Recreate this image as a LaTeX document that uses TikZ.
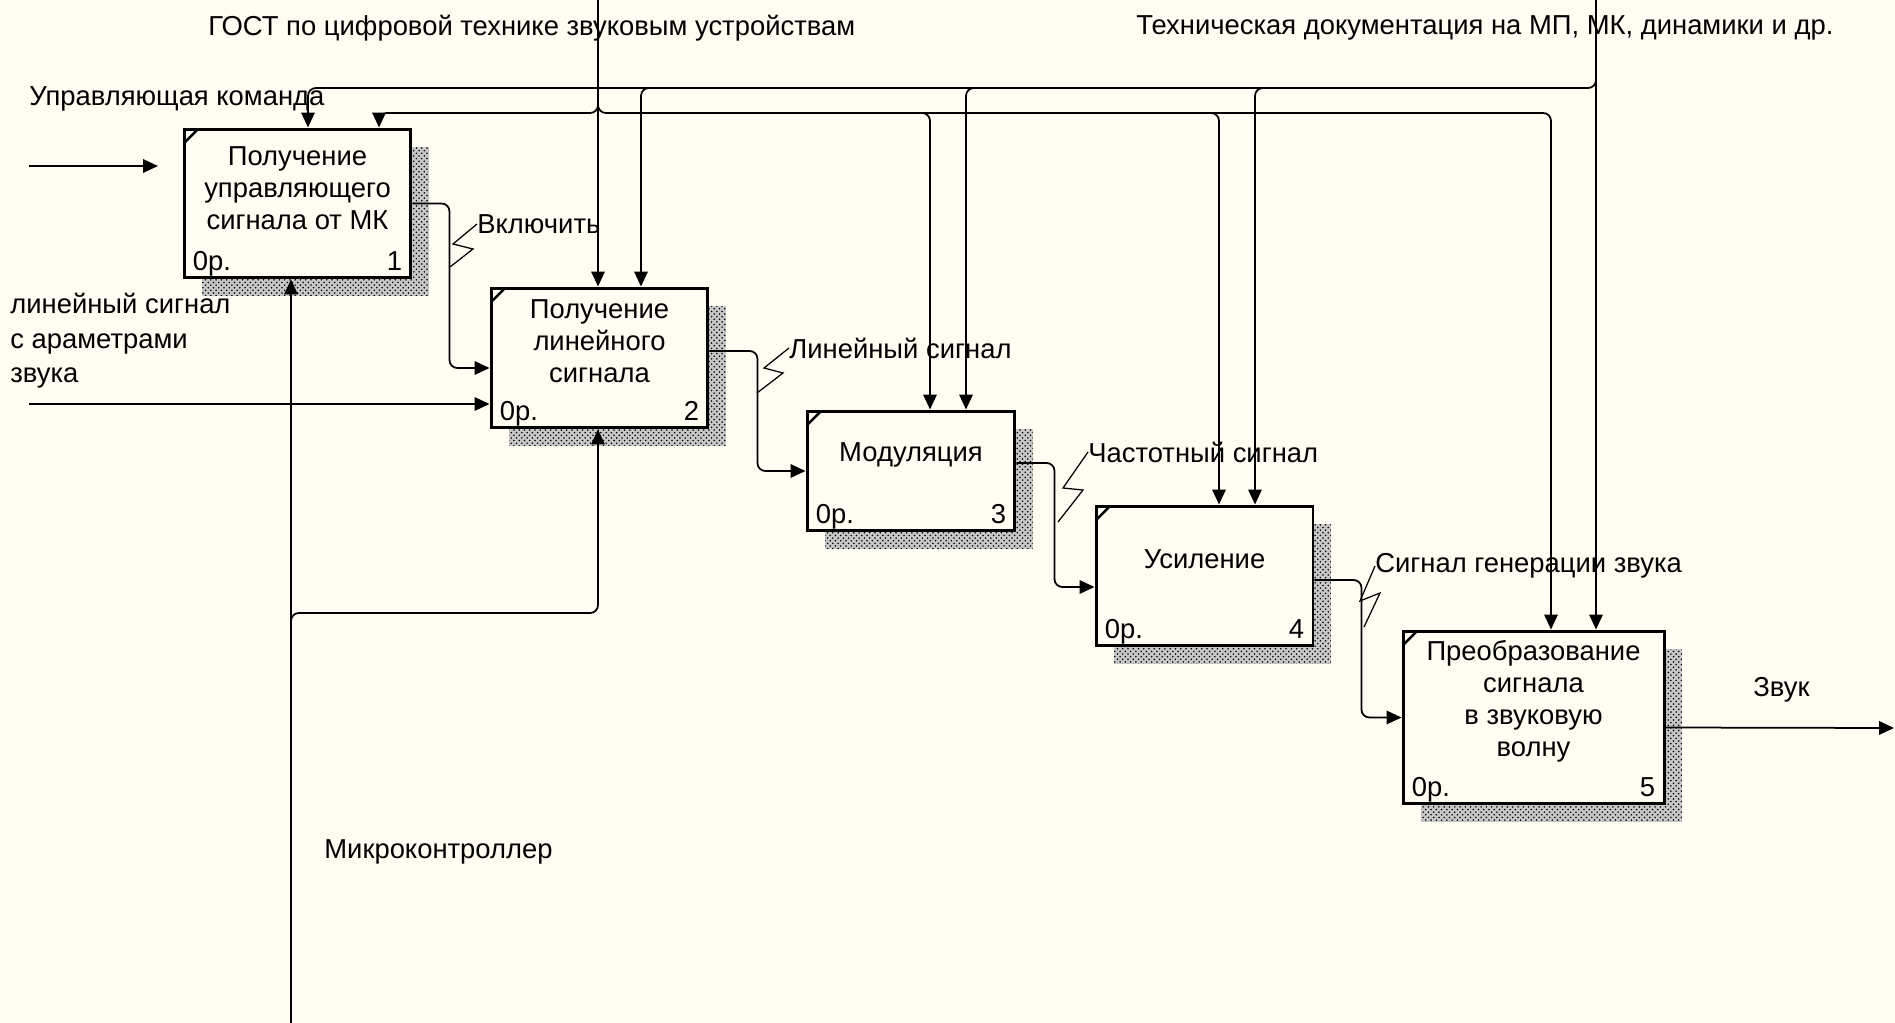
\documentclass[tikz,border=0pt]{standalone}
\usepackage{fontspec}
\setmainfont{Liberation Sans}
\usetikzlibrary{arrows.meta,patterns,shadows,calc}
\definecolor{paper}{HTML}{FFFCF2}
\newcommand{\diagfont}{\fontsize{15.6pt}{18.2pt}\selectfont}

\begin{document}
\begin{tikzpicture}[x=0.02cm,y=-0.02cm,
    fn/.style={draw,line width=0.06cm,fill=paper,inner sep=0,
      general shadow={shadow xshift=0.36cm,shadow yshift=-0.36cm,fill=black!22},
      general shadow={shadow xshift=0.36cm,shadow yshift=-0.36cm,
        pattern=crosshatch dots,pattern color=black},
      path picture={\draw[line width=0.05cm]
        ([yshift=-0.28cm]path picture bounding box.north west) --
        ([xshift=0.28cm]path picture bounding box.north west);}},
    fntext/.style={align=center,font=\diagfont,inner sep=0},
    cost/.style={anchor=base west,inner sep=0,xshift=0.2cm,yshift=0.17cm,font=\diagfont},
    num/.style={anchor=base east,inner sep=0,xshift=-0.2cm,yshift=0.17cm,font=\diagfont},
    lbl/.style={anchor=west,inner sep=0,font=\diagfont},
    arr/.style={line width=0.035cm,rounded corners=4.5pt,
      -{Triangle[length=0.3cm,width=0.27cm]}},
    zig/.style={line width=0.025cm}]
  \useasboundingbox (0,0) rectangle (1895,1023);
  \fill[paper] (0,0) rectangle (1895,1023);

  % function boxes
  \node[fn,minimum width=4.54cm,minimum height=2.98cm] (b1) at (297.5,203.5) {};
  \node[fn,minimum width=4.34cm,minimum height=2.8cm] (b2) at (599.5,358) {};
  \node[fn,minimum width=4.16cm,minimum height=2.4cm] (b3) at (911,471) {};
  \node[fn,minimum width=4.34cm,minimum height=2.8cm] (b4) at (1204.5,576) {};
  \node[fn,minimum width=5.22cm,minimum height=3.46cm] (b5) at (1533.5,717.5) {};

  \node[fntext] (b1t) at ([yshift=0.31cm]b1.center) {Получение\\управляющего\\сигнала от МК};
  \node[fntext] (b2t) at ([yshift=0.33cm]b2.center) {Получение\\линейного\\сигнала};
  \node[fntext] (b3t) at ([yshift=0.33cm]b3.center) {Модуляция};
  \node[fntext] (b4t) at ([yshift=0.33cm]b4.center) {Усиление};
  \node[fntext] (b5t) at ([yshift=0.33cm]b5.center) {Преобразование\\сигнала\\в звуковую\\волну};

  \node[cost] (b1c) at (b1.south west) {0р.};
  \node[num] (b1n) at (b1.south east) {1};
  \node[cost] (b2c) at (b2.south west) {0р.};
  \node[num] (b2n) at (b2.south east) {2};
  \node[cost] (b3c) at (b3.south west) {0р.};
  \node[num] (b3n) at (b3.south east) {3};
  \node[cost] (b4c) at (b4.south west) {0р.};
  \node[num] (b4n) at (b4.south east) {4};
  \node[cost] (b5c) at (b5.south west) {0р.};
  \node[num] (b5n) at (b5.south east) {5};

  % labels
  \node[lbl] (gostL) at (208,28) {ГОСТ по цифровой технике звуковым устройствам};
  \node[lbl] (techL) at (1136,28) {Техническая документация на МП, МК, динамики и др.};
  \node[lbl] (cmdL) at (29,99) {Управляющая команда};
  \node[lbl,align=left,font=\fontsize{15.6pt}{19.6pt}\selectfont] (linL) at (10,341) {линейный сигнал\\с араметрами\\звука};
  \node[lbl] (onL) at (477,224) {Включить};
  \node[lbl] (linsigL) at (789,348) {Линейный сигнал};
  \node[lbl] (freqL) at (1088,452) {Частотный сигнал};
  \node[lbl] (genL) at (1375,566) {Сигнал генерации звука};
  \node[lbl] (soundL) at (1753,690) {Звук};
  \node[lbl] (mkL) at (324,852) {Микроконтроллер};

  % inputs
  \coordinate (in1) at (29,166);
  \coordinate (in1e) at (158,166);
  \coordinate (in2) at (29,404);
  \draw[arr] (in1) -- (in1e);
  \draw[arr] (in2) -- (in2 -| b2.west);

  % outputs
  \draw[arr] (b1.east) -- ++(37,0) |- ([yshift=-0.2cm]b2.west);
  \draw[arr] ([yshift=0.14cm]b2.east) -- ++(48,0) |- (b3.west);
  \draw[arr] ([yshift=0.16cm]b3.east) -- ++(38,0) |- ([yshift=-0.22cm]b4.west);
  \draw[arr] ([yshift=-0.08cm]b4.east) -- ++(47,0) |- (b5.west);
  \coordinate (out) at (1894,728);
  \draw[arr] ([yshift=-0.2cm]b5.east) -- (out);

  \draw[zig] (onL.west) -- ++(-24,20) -- ++(20,5) -- ++(-23,18);
  \draw[zig] (linsigL.west) -- ++(-25,20) -- ++(19,5) -- ++(-26,20);
  \draw[zig] (freqL.west) -- ++(-25,36) -- ++(20,2) -- ++(-25,32);
  \draw[zig] (genL.west) -- ++(-15,35) -- ++(20,-8) -- ++(-16,34);

  % controls
  \coordinate (gost) at (598,0);
  \coordinate (gostj) at (598,100);
  \coordinate (g1) at (379,113);
  \coordinate (g3) at (930,113);
  \coordinate (g4) at (1219,113);
  \coordinate (g5) at (1551,113);
  \draw[arr] (gost) -- (gost |- b2.north);
  \draw[arr] (gostj) |- (g1) -- (g1 |- b1.north);
  \draw[arr] (gostj) |- (g5) -- (g5 |- b5.north);
  \draw[arr] ($(g3)+(-20,0)$) -| (g3 |- b3.north);
  \draw[arr] ($(g4)+(-20,0)$) -| (g4 |- b4.north);

  \coordinate (tech) at (1596,0);
  \coordinate (techj) at (1596,75);
  \coordinate (t1) at (308,88);
  \coordinate (t2) at (641,88);
  \coordinate (t3) at (966,88);
  \coordinate (t4) at (1255,88);
  \draw[arr] (tech) -- (tech |- b5.north);
  \draw[arr] (techj) |- (t1) -- (t1 |- b1.north);
  \draw[arr] ($(t2)+(20,0)$) -| (t2 |- b2.north);
  \draw[arr] ($(t3)+(20,0)$) -| (t3 |- b3.north);
  \draw[arr] ($(t4)+(20,0)$) -| (t4 |- b4.north);

  % mechanism
  \coordinate (mk) at (291,1023);
  \coordinate (mkj) at (291,625);
  \coordinate (m2) at (598,613);
  \draw[arr] (mk) -- (mk |- b1.south);
  \draw[arr] (mkj) |- (m2) -- (m2 |- b2.south);
\end{tikzpicture}
\end{document}
